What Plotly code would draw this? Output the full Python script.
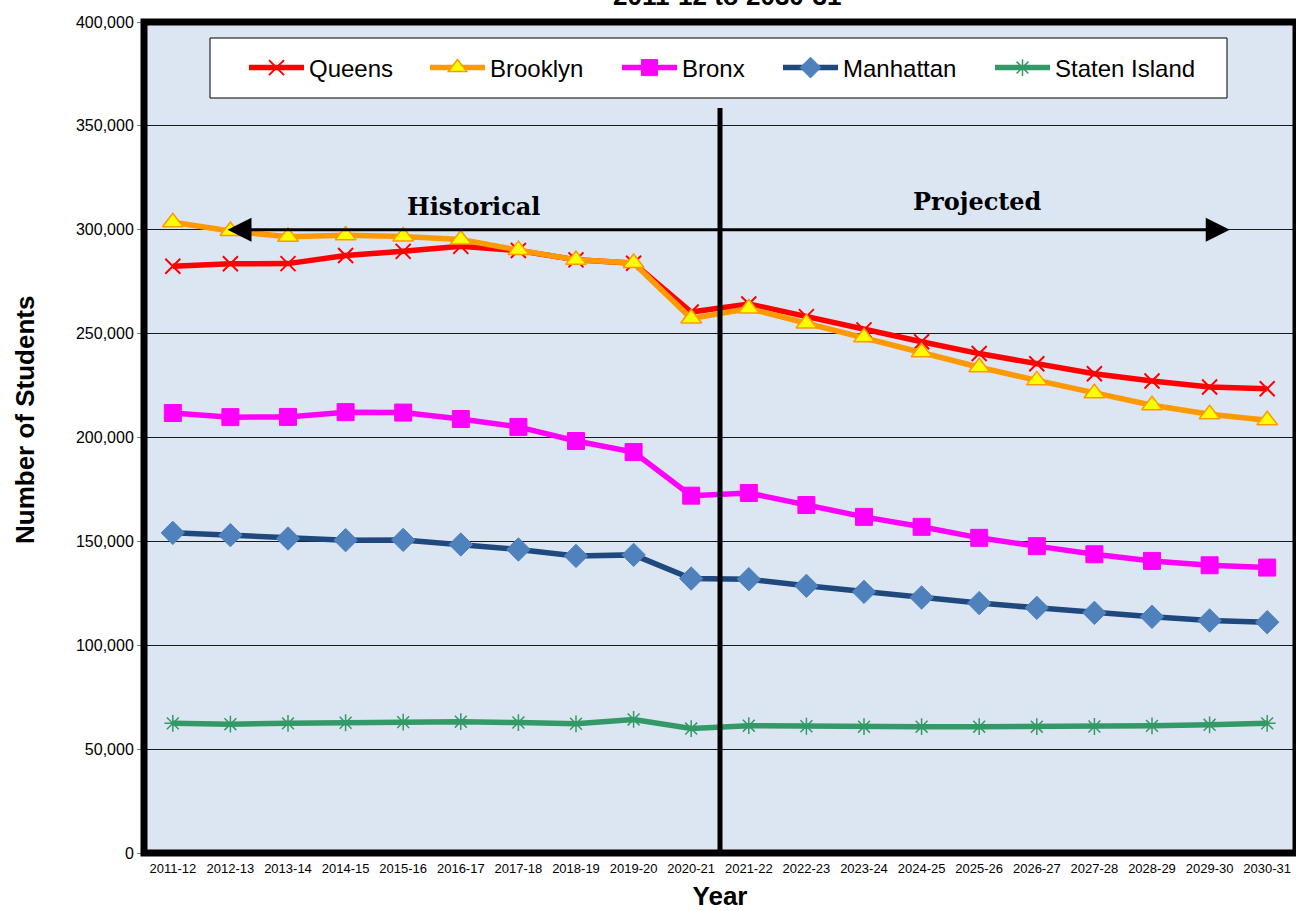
import plotly.graph_objects as go

# School years on the category axis
years = ["2011-12", "2012-13", "2013-14", "2014-15", "2015-16", "2016-17",
         "2017-18", "2018-19", "2019-20", "2020-21", "2021-22", "2022-23",
         "2023-24", "2024-25", "2025-26", "2026-27", "2027-28", "2028-29",
         "2029-30", "2030-31"]

# Enrollment by borough (historical through 2020-21, projected after)
queens = [282400, 283600, 283700, 287600, 289600, 292000, 290000, 285500, 283900, 260400,
          264300, 258200, 251800, 246100, 240400, 235500, 230700, 227200, 224300, 223500]
brooklyn = [303600, 299400, 296600, 297300, 296800, 295300, 290200, 285500, 284000, 257300,
            262100, 254900, 248200, 241000, 233800, 227500, 221300, 215500, 211200, 208300]
bronx = [211800, 209800, 209900, 212200, 212000, 208900, 205100, 198300, 193000, 172000,
         173300, 167500, 161800, 157000, 151700, 147700, 143800, 140600, 138500, 137400]
manhattan = [154100, 153000, 151400, 150600, 150700, 148500, 146100, 143000, 143500, 132100,
             131800, 128600, 125700, 123000, 120300, 118000, 115600, 113700, 111900, 111100]
staten_island = [62400, 62000, 62400, 62700, 63000, 63200, 62800, 62200, 64300, 59900,
                 61300, 61000, 60800, 60800, 60800, 60800, 60900, 61200, 61700, 62400]

y_ticks = [0, 50000, 100000, 150000, 200000, 250000, 300000, 350000, 400000]

W, H = 1296, 911
ML, MR, MT, MB = 144, 0, 22, 58
PW, PH = W - ML - MR, H - MT - MB


def px_x(p):
    return (p - ML) / PW


def px_y(p):
    return (H - MB - p) / PH


series = [
    dict(name="Queens", y=queens, line="#ff0000",
         marker=dict(symbol="x-thin", size=15, color="#ff0000",
                     line=dict(color="#ff0000", width=2)), legend="legend", lx=250),
    dict(name="Brooklyn", y=brooklyn, line="#ff9900",
         marker=dict(symbol="triangle-up", size=18, color="#ffff00",
                     line=dict(color="#ff9900", width=1.5)), legend="legend2", lx=431),
    dict(name="Bronx", y=bronx, line="#ff00ff",
         marker=dict(symbol="square", size=17, color="#ff00ff",
                     line=dict(color="#ff00ff", width=1)), legend="legend3", lx=623),
    dict(name="Manhattan", y=manhattan, line="#1f497d",
         marker=dict(symbol="diamond", size=18, color="#4f81bd",
                     line=dict(color="#4f81bd", width=1)), legend="legend4", lx=784),
    dict(name="Staten Island", y=staten_island, line="#339966",
         marker=dict(symbol="asterisk-open", size=14, color="#339966",
                     line=dict(color="#339966", width=1.5)), legend="legend5", lx=996),
]

fig = go.Figure()
for s in series:
    fig.add_trace(go.Scatter(
        x=years, y=s["y"], name=s["name"], mode="lines+markers",
        line=dict(color=s["line"], width=5.5), marker=s["marker"],
        legend=s["legend"], showlegend=True,
    ))

legend_common = dict(
    orientation="h", yanchor="middle", y=px_y(68), xanchor="left",
    bgcolor="rgba(0,0,0,0)", borderwidth=0, itemwidth=55,
    font=dict(family="Arial, Liberation Sans, sans-serif", size=24, color="#000000"),
)
legends = {}
for s in series:
    legends[s["legend"]] = dict(legend_common, x=px_x(s["lx"] - 6))

# Legend frame, divider between historical and projected, outer border
shapes = [
    dict(type="rect", xref="paper", yref="paper",
         x0=px_x(210), x1=px_x(1227), y0=px_y(98), y1=px_y(38),
         fillcolor="#ffffff", line=dict(color="#000000", width=1), layer="below"),
    dict(type="line", xref="x", yref="paper", x0=9.5, x1=9.5, y0=0, y1=px_y(108),
         line=dict(color="#000000", width=5)),
    dict(type="rect", xref="paper", yref="paper", x0=0, x1=1, y0=0, y1=1,
         line=dict(color="#000000", width=7)),
]

label_font = dict(family="DejaVu Serif, serif", size=24, color="#000000")
annotations = [
    dict(text="<b>Historical</b>", x=5.22, y=311000, xref="x", yref="y",
         showarrow=False, font=label_font),
    dict(text="<b>Projected</b>", x=13.97, y=313500, xref="x", yref="y",
         showarrow=False, font=label_font),
    dict(text="", x=0.95, y=300000, ax=9.5, ay=300000, xref="x", yref="y",
         axref="x", ayref="y", showarrow=True, arrowhead=2, arrowsize=1.6,
         arrowwidth=3, arrowcolor="#000000"),
    dict(text="", x=18.35, y=300000, ax=9.5, ay=300000, xref="x", yref="y",
         axref="x", ayref="y", showarrow=True, arrowhead=2, arrowsize=1.6,
         arrowwidth=3, arrowcolor="#000000"),
    dict(text="<b>2011-12 to 2030-31</b>", x=px_x(727), y=1, xref="paper", yref="paper",
         xanchor="center", yanchor="bottom", yshift=9, showarrow=False,
         font=dict(family="Arial, Liberation Sans, sans-serif", size=26, color="#000000")),
    dict(text="<b>Number of Students</b>", x=px_x(25), y=px_y(420),
         xref="paper", yref="paper", xanchor="center", yanchor="middle",
         textangle=-90, showarrow=False,
         font=dict(family="Arial, Liberation Sans, sans-serif", size=26, color="#000000")),
]

fig.update_layout(
    width=W, height=H,
    margin=dict(l=ML, r=MR, t=MT, b=MB),
    paper_bgcolor="#ffffff", plot_bgcolor="#dce6f2",
    font=dict(family="Arial, Liberation Sans, sans-serif", color="#000000"),
    showlegend=True,
    shapes=shapes, annotations=annotations,
    **legends,
)

fig.update_xaxes(
    type="category", range=[-0.5, 19.5], showgrid=False, zeroline=False,
    tickfont=dict(size=13, color="#000000"), ticks="", ticklabelstandoff=6,
    title=dict(text="<b>Year</b>", font=dict(size=26, color="#000000"), standoff=12),
)
fig.update_yaxes(
    range=[0, 400000], tickvals=y_ticks, tickformat=",", showgrid=True,
    gridcolor="#1a1a1a", gridwidth=1, zeroline=False,
    ticks="outside", ticklen=6, tickcolor="#808080",
    tickfont=dict(size=16, color="#000000"),
)

fig.write_html("out.html")
